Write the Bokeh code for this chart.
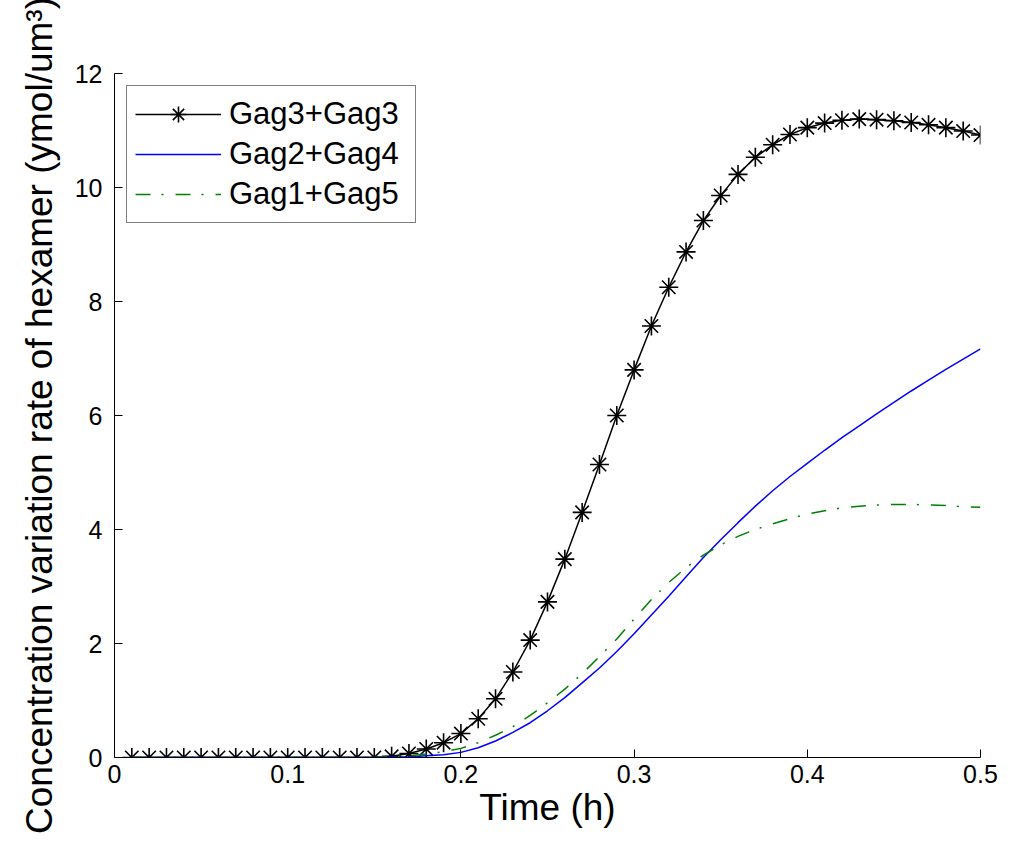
from bokeh.plotting import figure
from bokeh.models import FixedTicker, Range1d
from bokeh.embed import file_html
from bokeh.resources import INLINE

time_h = [0.01, 0.02, 0.03, 0.04, 0.05, 0.06, 0.07, 0.08, 0.09, 0.10,
          0.11, 0.12, 0.13, 0.14, 0.15, 0.16, 0.17, 0.18, 0.19, 0.20,
          0.21, 0.22, 0.23, 0.24, 0.25, 0.26, 0.27, 0.28, 0.29, 0.30,
          0.31, 0.32, 0.33, 0.34, 0.35, 0.36, 0.37, 0.38, 0.39, 0.40,
          0.41, 0.42, 0.43, 0.44, 0.45, 0.46, 0.47, 0.48, 0.49, 0.50]

gag3_gag3 = [0, 0, 0, 0, 0, 0, 0, 0, 0, 0,
             0, 0, 0, 0, 0, 0.02, 0.07, 0.15, 0.26, 0.42,
             0.68, 1.03, 1.50, 2.06, 2.73, 3.48, 4.30, 5.14, 6.00, 6.80,
             7.57, 8.25, 8.87, 9.42, 9.86, 10.23, 10.53, 10.75, 10.93, 11.05,
             11.13, 11.18, 11.20, 11.19, 11.17, 11.14, 11.10, 11.05, 10.99, 10.92]

gag2_gag4 = [0, 0, 0, 0, 0, 0, 0, 0, 0, 0,
             0, 0, 0, 0, 0, 0.01, 0.01, 0.03, 0.05, 0.09,
             0.17, 0.29, 0.44, 0.61, 0.82, 1.05, 1.31, 1.57, 1.86, 2.17,
             2.50, 2.83, 3.17, 3.51, 3.82, 4.12, 4.41, 4.68, 4.93, 5.16,
             5.39, 5.61, 5.82, 6.03, 6.23, 6.43, 6.62, 6.81, 6.99, 7.17]

gag1_gag5 = [0, 0, 0, 0, 0, 0, 0, 0, 0, 0,
             0, 0, 0, 0, 0, 0.01, 0.03, 0.06, 0.10, 0.16,
             0.26, 0.39, 0.54, 0.74, 0.96, 1.20, 1.47, 1.77, 2.08, 2.43,
             2.77, 3.07, 3.33, 3.55, 3.73, 3.88, 4.00, 4.10, 4.19, 4.27,
             4.33, 4.38, 4.41, 4.43, 4.44, 4.44, 4.43, 4.42, 4.40, 4.39]

x_ticks = [0, 0.1, 0.2, 0.3, 0.4, 0.5]
x_tick_labels = ["0", "0.1", "0.2", "0.3", "0.4", "0.5"]
y_ticks = [0, 2, 4, 6, 8, 10, 12]
y_tick_labels = ["0", "2", "4", "6", "8", "10", "12"]

FONT = "Liberation Sans"

p = figure(width=1007, height=835, output_backend="svg", toolbar_location=None,
           x_range=Range1d(0, 0.5), y_range=Range1d(0, 12),
           min_border_left=114, min_border_right=27, min_border_top=73,
           min_border_bottom=78)
p.outline_line_color = None
p.grid.grid_line_color = None
p.background_fill_color = "white"
p.border_fill_color = "white"

p.line(time_h, gag3_gag3, line_color="black", line_width=1.5, legend_label="Gag3+Gag3")
p.scatter(time_h, gag3_gag3, marker="asterisk", size=19, line_color="black",
          line_width=1.6, legend_label="Gag3+Gag3")
p.line(time_h, gag2_gag4, line_color="#0000ff", line_width=1.5, legend_label="Gag2+Gag4")
p.line(time_h, gag1_gag5, line_color="#008000", line_width=1.5, line_dash="15 11 2 12",
       legend_label="Gag1+Gag5")

for ax in (p.xaxis[0], p.yaxis[0]):
    ax.axis_line_color = "black"
    ax.axis_line_width = 1
    ax.major_tick_in = 8
    ax.major_tick_out = 0
    ax.minor_tick_line_color = None
    ax.major_tick_line_color = "black"
    ax.major_label_text_font = FONT
    ax.major_label_text_font_size = "25px"
    ax.major_label_text_color = "black"
    ax.axis_label_text_font = FONT
    ax.axis_label_text_font_style = "normal"
    ax.axis_label_text_color = "black"
    ax.axis_label_text_font_size = "37px"

p.xaxis[0].ticker = FixedTicker(ticks=x_ticks)
p.xaxis[0].major_label_overrides = dict(zip(x_ticks, x_tick_labels))
p.yaxis[0].ticker = FixedTicker(ticks=y_ticks)
p.yaxis[0].major_label_overrides = dict(zip(y_ticks, y_tick_labels))
p.xaxis[0].major_label_standoff = 7
p.xaxis[0].axis_label_standoff = 1
p.yaxis[0].major_label_standoff = 12
p.yaxis[0].axis_label_standoff = 12
p.xaxis[0].axis_label = "Time (h)"
p.yaxis[0].axis_label = "Concentration variation rate of hexamer (ymol/um\u00b3)"

lg = p.legend[0]
lg.location = "top_left"
lg.margin = 12
lg.padding = 8
lg.spacing = 0
lg.glyph_width = 86
lg.glyph_height = 40
lg.label_height = 40
lg.label_width = 178
lg.label_standoff = 8
lg.label_text_font = FONT
lg.label_text_font_size = "31px"
lg.label_text_color = "black"
lg.border_line_color = "black"
lg.border_line_width = 1
lg.background_fill_color = "white"
lg.background_fill_alpha = 1.0

open("out.html", "w").write(file_html(p, INLINE))
